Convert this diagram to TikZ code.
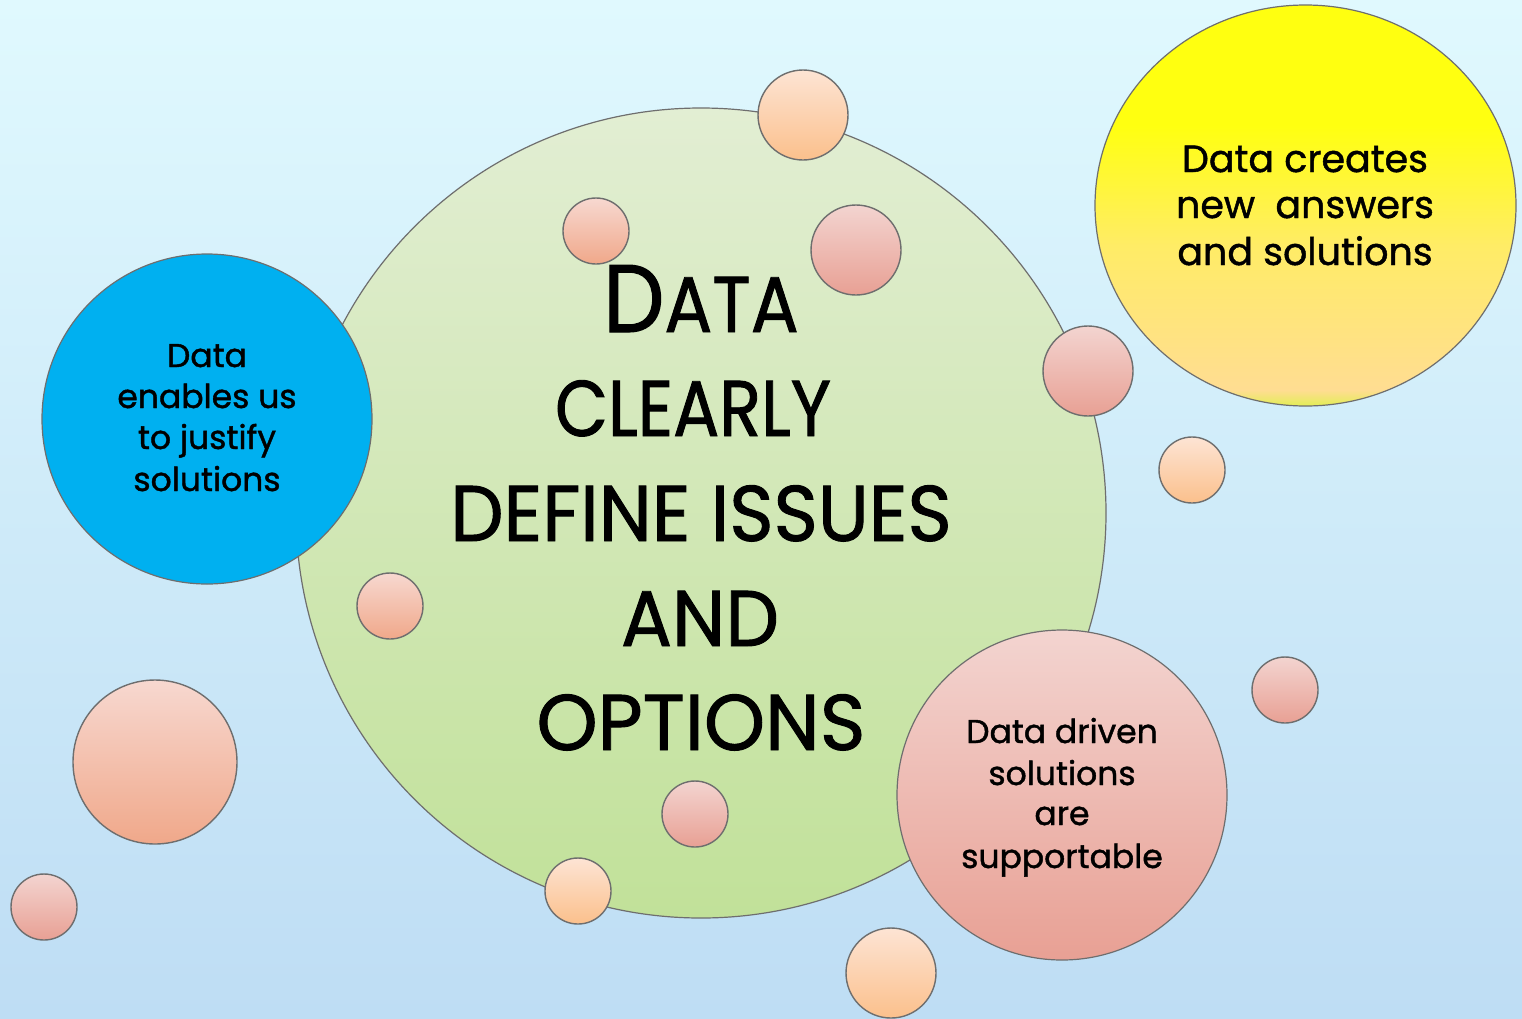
\documentclass[tikz,border=0pt]{standalone}
\usepackage{fontspec}
\usetikzlibrary{shapes.geometric}
\newfontfamily\pop{Poppins}[FakeBold=1.2]
\definecolor{bgT}{HTML}{E0F9FE}
\definecolor{bgB}{HTML}{BEDDF4}
\definecolor{grT}{HTML}{E2EED3}
\definecolor{grB}{HTML}{C1E199}
\definecolor{blueF}{HTML}{00B0F0}
\definecolor{lineg}{HTML}{6E6E6E}
\definecolor{peT}{HTML}{FDE4D4}
\definecolor{peB}{HTML}{FBC08C}
\definecolor{saT}{HTML}{F7D8D0}
\definecolor{saB}{HTML}{F0A88A}
\definecolor{piT}{HTML}{F3D4D0}
\definecolor{piB}{HTML}{E8A094}
\definecolor{yeG}{HTML}{E2EE55}
\definecolor{yeO}{HTML}{FFDD92}
\definecolor{yeM}{HTML}{FFEC66}
\definecolor{yeY}{HTML}{FFFF10}
\pgfdeclareverticalshading{yelsh}{100bp}{color(0bp)=(yeG); color(25bp)=(yeG); color(27bp)=(yeO); color(45bp)=(yeM); color(60bp)=(yeY); color(100bp)=(yeY)}
\tikzset{
  ball/.style={circle, draw=lineg, line width=1.4pt, inner sep=0pt, minimum size=#1},
  peach/.style={ball=#1, top color=peT, bottom color=peB},
  salmon/.style={ball=#1, top color=saT, bottom color=saB},
  pinkb/.style={ball=#1, top color=piT, bottom color=piB},
  bigtxt/.style={anchor=base, inner sep=0pt, font=\pop\fontsize{79}{79}\selectfont},
  bluetxt/.style={anchor=base, inner sep=0pt, font=\pop\fontsize{33}{33}\selectfont},
  yeltxt/.style={anchor=base, inner sep=0pt, font=\pop\fontsize{38}{38}\selectfont},
  pinktxt/.style={anchor=base, inner sep=0pt, font=\pop\fontsize{33}{33}\selectfont},
}
\begin{document}
\begin{tikzpicture}[x=1pt,y=-1pt]
\useasboundingbox (0,0) rectangle (1522,1018);
\shade[top color=bgT, bottom color=bgB] (0,0) rectangle (1522,1018);
% main circles
\node[ball=810pt, line width=1.2pt, top color=grT, bottom color=grB] (green) at (701,513) {};
\node[ellipse, draw=lineg, line width=1.2pt, inner sep=0pt, minimum width=421pt, minimum height=401pt, shading=yelsh] (yellowc) at (1305.5,205.5) {};
\node[ball=330pt, line width=1.2pt, fill=blueF] (bluec) at (207,419) {};
\node[ball=330pt, line width=1.2pt, top color=piT, bottom color=piB] (pinkc) at (1062,795) {};
% small bubbles
\node[peach=90pt]  (b1)  at (803,115) {};
\node[salmon=66pt] (b2)  at (596,231) {};
\node[pinkb=90pt]  (b3)  at (856,250) {};
\node[pinkb=90pt]  (b4)  at (1088,371) {};
\node[peach=66pt]  (b5)  at (1192,470) {};
\node[salmon=66pt] (b6)  at (390,606) {};
\node[salmon=164pt](b7)  at (155,762) {};
\node[pinkb=66pt]  (b8)  at (44,907) {};
\node[pinkb=66pt]  (b9)  at (695,814) {};
\node[peach=66pt]  (b10) at (578,891) {};
\node[peach=90pt]  (b11) at (891,973) {};
\node[pinkb=66pt]  (b12) at (1285,690) {};
% centre text
\node[bigtxt] (c1) at (701,332) {\scalebox{0.9}[1]{{\fontsize{96}{96}\selectfont D}ATA}};
\node[bigtxt] (c2) at (693,436) {\scalebox{0.87}[1]{CLEARLY}};
\node[bigtxt] (c3) at (701,541) {\scalebox{0.955}[1]{DEFINE ISSUES}};
\node[bigtxt] (c4) at (700,646) {\scalebox{0.96}[1]{AND}};
\node[bigtxt] (c5) at (701,750) {\scalebox{0.985}[1]{OPTIONS}};
% blue text
\node[bluetxt] (l1) at (207,367) {Data};
\node[bluetxt] (l2) at (207,408) {enables us};
\node[bluetxt] (l3) at (207,449) {to justify};
\node[bluetxt] (l4) at (207,491) {solutions};
% yellow text
\node[yeltxt] (y1) at (1305,172) {Data creates};
\node[yeltxt] (y2) at (1305,218) {new\ \ answers};
\node[yeltxt] (y3) at (1305,265) {and solutions};
% pink text
\node[pinktxt] (p1) at (1062,743) {Data driven};
\node[pinktxt] (p2) at (1062,785) {solutions};
\node[pinktxt] (p3) at (1062,825) {are};
\node[pinktxt] (p4) at (1062,868) {supportable};
\end{tikzpicture}
\end{document}
